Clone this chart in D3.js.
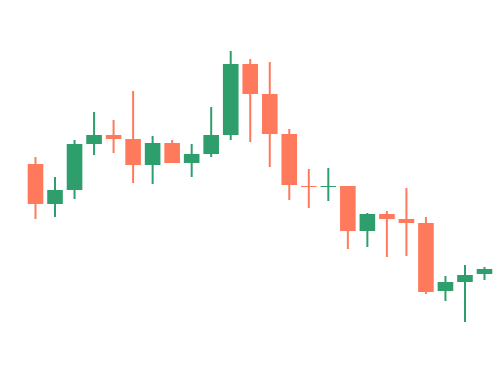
<!DOCTYPE html>
<html>
<head>
<meta charset="utf-8">
<script src="https://cdn.jsdelivr.net/npm/d3@7"></script>
<style>
  html, body { margin: 0; padding: 0; background: #fff; }
  svg { display: block; }
</style>
</head>
<body>
<div id="chart"></div>
<script>
// daily candles, no axes shown in the original
const days = ['D1', 'D2', 'D3', 'D4', 'D5', 'D6', 'D7', 'D8', 'D9', 'D10', 'D11', 'D12',
  'D13', 'D14', 'D15', 'D16', 'D17', 'D18', 'D19', 'D20', 'D21', 'D22', 'D23', 'D24']
const open = [17.6, 13.6, 15.0, 19.6, 20.5, 20.1, 17.5, 19.7, 17.7, 18.6, 20.5, 27.6,
  24.6, 20.6, 15.4, 15.35, 15.4, 10.9, 12.6, 12.1, 11.7, 4.9, 5.8, 6.6]
const close = [13.6, 15.0, 19.6, 20.5, 20.1, 17.5, 19.7, 17.7, 18.6, 20.5, 27.6, 24.6,
  20.6, 15.5, 15.35, 15.4, 10.9, 12.6, 12.1, 11.7, 4.8, 5.8, 6.5, 7.1]
const high = [18.3, 16.3, 20.0, 22.8, 22.0, 24.9, 20.4, 20.0, 19.6, 23.3, 28.9, 28.1,
  27.8, 21.1, 17.1, 17.2, 15.4, 12.7, 12.9, 15.2, 12.3, 6.4, 7.5, 7.3]
const low = [12.1, 12.3, 14.1, 18.5, 18.7, 15.7, 15.6, 17.7, 16.3, 18.3, 20.0, 19.8,
  17.3, 14.0, 13.2, 13.9, 9.1, 9.3, 8.3, 8.4, 4.6, 3.9, 1.8, 6.0]

const upColor = '#2e9f6c'
const downColor = '#ff7a5c'

const width = 500, height = 374

const svg = d3.select('#chart')
    .append('svg')
    .attr('width', width)
    .attr('height', height)

let x = d3.scalePoint()
    .domain(days)
    .range([35.5, 484.5])

let y = d3.scaleLinear()
    .domain([0, 34])
    .range([340, 0])

let bodyWidth = x.step() * 0.8

let data = days.map((d, i) => {
    return { 'day': d, 'open': open[i], 'close': close[i], 'high': high[i], 'low': low[i] }
})

let candles = svg.append('g')
    .attr('class', 'candles')
    .selectAll('g')
    .data(data)
    .enter()
    .append('g')

// wicks
candles.append('line')
    .attr('x1', d => x(d.day))
    .attr('x2', d => x(d.day))
    .attr('y1', d => y(d.high))
    .attr('y2', d => y(d.low))
    .attr('stroke', d => d.close >= d.open ? upColor : downColor)
    .attr('stroke-width', 2)

// bodies
candles.append('rect')
    .attr('x', d => x(d.day) - bodyWidth / 2)
    .attr('y', d => y(Math.max(d.open, d.close)))
    .attr('width', bodyWidth)
    .attr('height', d => Math.max(1, Math.abs(y(d.open) - y(d.close))))
    .attr('fill', d => d.close >= d.open ? upColor : downColor)
</script>
</body>
</html>
